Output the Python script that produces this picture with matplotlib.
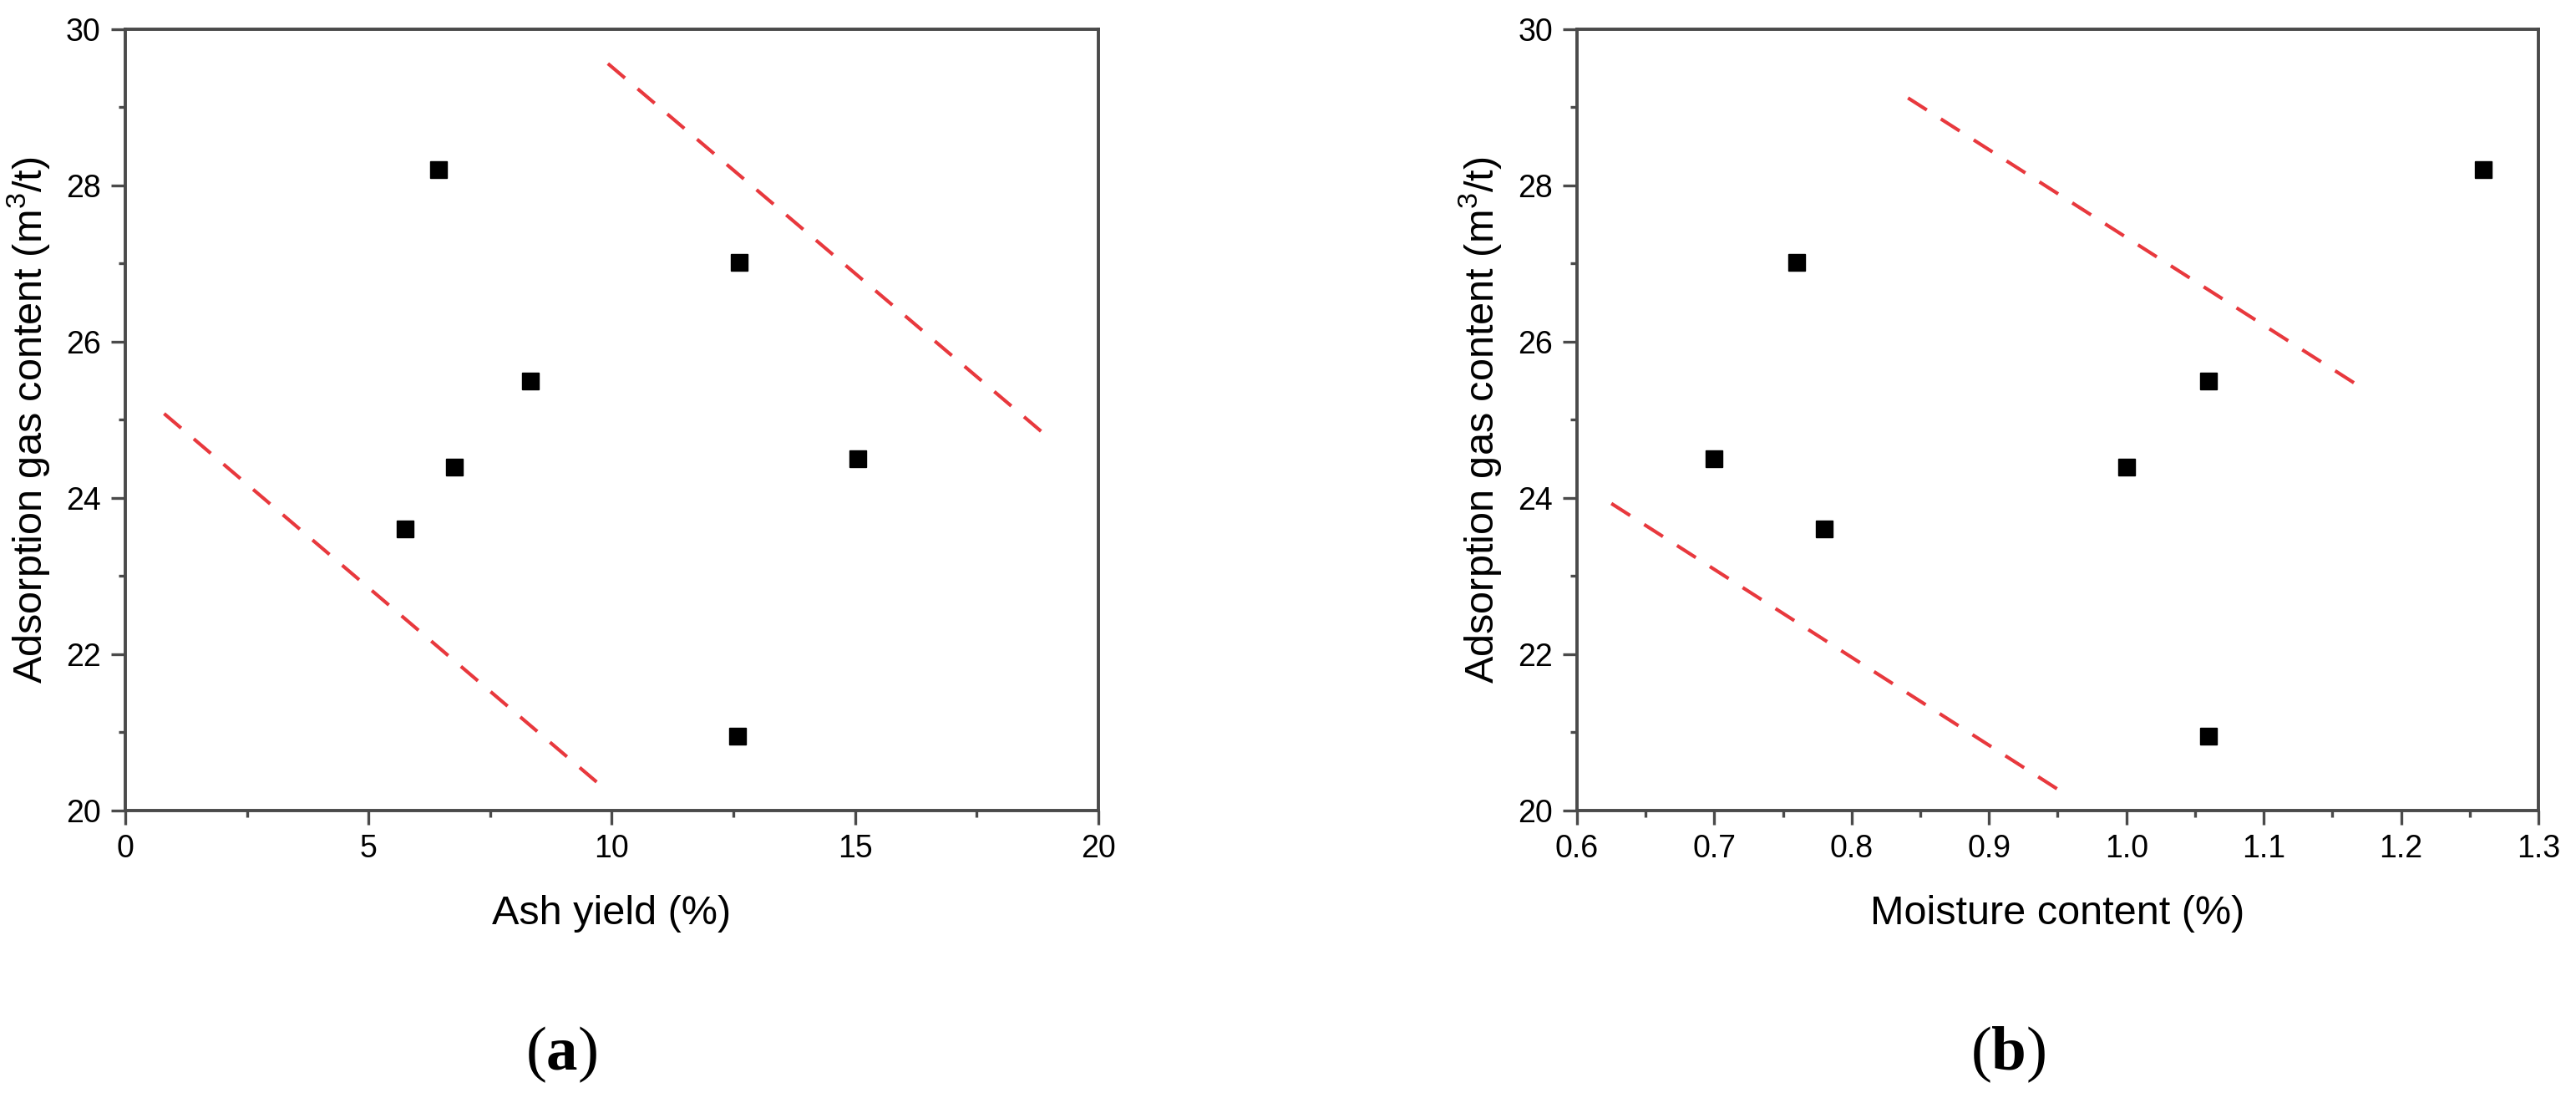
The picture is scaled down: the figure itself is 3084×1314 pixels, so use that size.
import matplotlib
matplotlib.use("Agg")
import matplotlib.pyplot as plt
from matplotlib.ticker import MultipleLocator

gas = [28.2, 27.02, 25.5, 24.4, 23.6, 24.5, 20.95]
ash = [6.44, 12.62, 8.33, 6.76, 5.76, 15.05, 12.58]
moisture = [1.26, 0.76, 1.06, 1.00, 0.78, 0.70, 1.06]

# red dashed guide lines (end points)
ash_lo_x, ash_lo_y = [0.8, 9.85], [25.08, 20.28]
ash_hi_x, ash_hi_y = [9.92, 19.0], [29.56, 24.76]
moist_lo_x, moist_lo_y = [0.625, 0.952], [23.93, 20.25]
moist_hi_x, moist_hi_y = [0.841, 1.167], [29.12, 25.46]

plt.rcParams['font.family'] = ['Liberation Sans', 'DejaVu Sans']
plt.rcParams['mathtext.fontset'] = 'custom'
plt.rcParams['mathtext.rm'] = 'Liberation Sans'
plt.rcParams['mathtext.bf'] = 'Liberation Serif:bold'
plt.rcParams['mathtext.default'] = 'regular'

fig = plt.figure(figsize=(30.84, 13.14), dpi=100)
ax1 = fig.add_axes([0.0486, 0.2618, 0.3778, 0.7116])
ax2 = fig.add_axes([0.6122, 0.2618, 0.3732, 0.7116])

red = '#e8383d'
spine_col = '#4a4a4a'


def style(ax, ylab_x):
    for s in ax.spines.values():
        s.set_linewidth(2.8)
        s.set_color(spine_col)
    ax.tick_params(which='major', direction='out', length=12, width=2.4,
                   labelsize=27, color=spine_col)
    ax.tick_params(which='minor', direction='out', length=6, width=2.4,
                   color=spine_col)
    ax.tick_params(axis='y', pad=9)
    ax.tick_params(axis='x', pad=8)
    ax.set_ylim(20, 30)
    ax.yaxis.set_major_locator(MultipleLocator(2))
    ax.yaxis.set_minor_locator(MultipleLocator(1))
    ax.set_ylabel('Adsorption gas content (m$^3$/t)', fontsize=35)
    ax.yaxis.set_label_coords(ylab_x, 0.5)


ax1.plot(ash, gas, 's', color='black', ms=15)
ax1.plot(ash_lo_x, ash_lo_y, '--', color=red, lw=3, dashes=(6.4, 4.8))
ax1.plot(ash_hi_x, ash_hi_y, '--', color=red, lw=3, dashes=(6.4, 4.8))
style(ax1, -0.0755)
ax1.set_xlim(0, 20)
ax1.xaxis.set_major_locator(MultipleLocator(5))
ax1.xaxis.set_minor_locator(MultipleLocator(2.5))
ax1.set_xlabel('Ash yield (%)', fontsize=35)
ax1.xaxis.set_label_coords(0.5, -0.108)

ax2.plot(moisture, gas, 's', color='black', ms=15)
ax2.plot(moist_lo_x, moist_lo_y, '--', color=red, lw=3, dashes=(6.4, 4.8))
ax2.plot(moist_hi_x, moist_hi_y, '--', color=red, lw=3, dashes=(6.4, 4.8))
style(ax2, -0.0765)
ax2.set_xlim(0.6, 1.3)
ax2.xaxis.set_major_locator(MultipleLocator(0.1))
ax2.xaxis.set_minor_locator(MultipleLocator(0.05))
ax2.xaxis.set_major_formatter(plt.FormatStrFormatter('%.1f'))
ax2.set_xlabel('Moisture content (%)', fontsize=35)
ax2.xaxis.set_label_coords(0.5, -0.108)

fig.text(0.218, 0.0396, r'($\mathbf{a}$)', fontsize=54, family='Liberation Serif',
         ha='center', va='center')
fig.text(0.7796, 0.0396, r'($\mathbf{b}$)', fontsize=54, family='Liberation Serif',
         ha='center', va='center')

fig.savefig('out.png', dpi=100, facecolor='white')
